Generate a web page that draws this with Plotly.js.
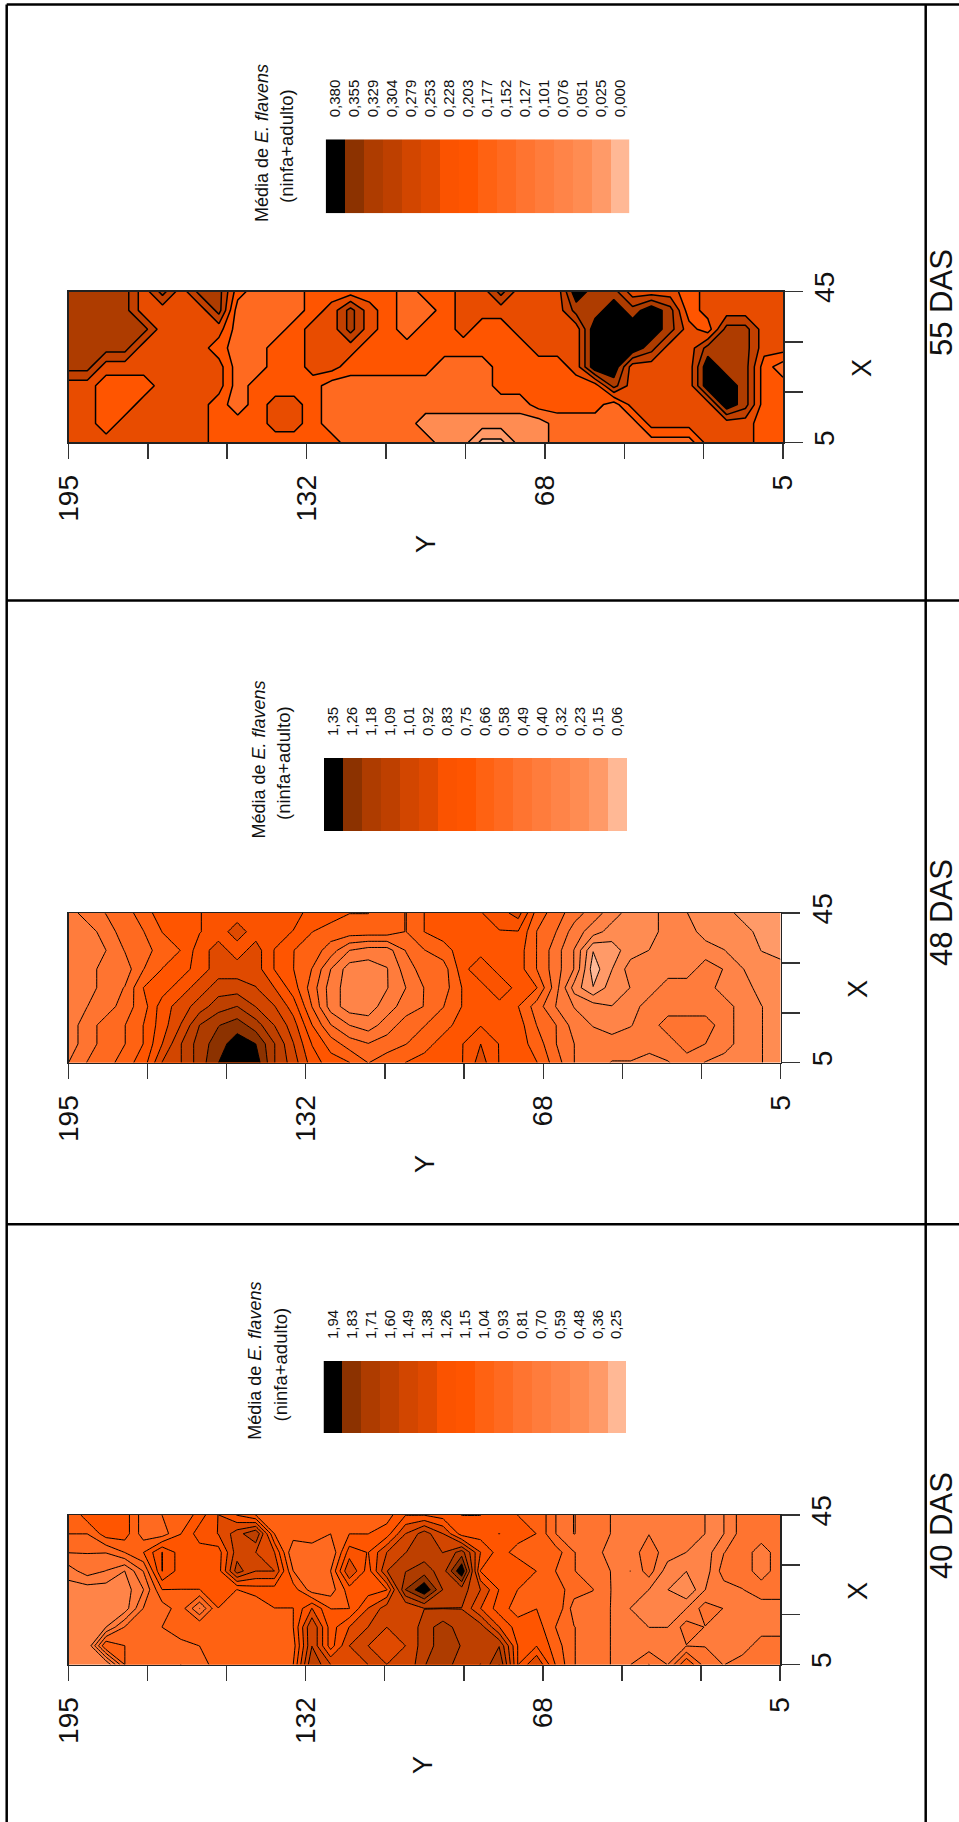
<!DOCTYPE html>
<html><head><meta charset="utf-8">
<script src="https://cdn.plot.ly/plotly-3.0.1.min.js"></script>
<style>html,body{margin:0;padding:0;background:#fff}</style></head>
<body><div id="chart" style="width:959px;height:1822px"></div>
<script>
const gridY = [195,190,185,180,175,170,165,160,155,150,145,140,135,130,125,120,115,110,105,100,95,90,85,80,75,70,65,60,55,50,45,40,35,30,25,20,15,10,5];
const gridX = [45,40,35,30,25,20,15,10,5];

const labels55 = ["0,380","0,355","0,329","0,304","0,279","0,253","0,228","0,203","0,177","0,152","0,127","0,101","0,076","0,051","0,025","0,000"];
const labels48 = ["1,35","1,26","1,18","1,09","1,01","0,92","0,83","0,75","0,66","0,58","0,49","0,40","0,32","0,23","0,15","0,06"];
const labels40 = ["1,94","1,83","1,71","1,60","1,49","1,38","1,26","1,15","1,04","0,93","0,81","0,70","0,59","0,48","0,36","0,25"];

const legendColors = ["#000000","#8C3200","#AE3C00","#BE4000","#D24600","#E04A00","#FB5300","#FF5500","#FF6212","#FF6A20","#FF7430","#FF7C3C","#FF8448","#FF8C52","#FF9A68","#FFB895"];
const bandColors55 = ["#FFB895","#FF9A68","#FF8C52","#FF6A20","#FF5500","#E84C00","#C24000","#AE3C00","#000000"];

const z55 = [
[.35,.35,.35,.35,.25,.35,.25,.35,.35,.20,.15,.15,.15,.20,.20,.20,.20,.20,.15,.20,.20,.25,.25,.35,.25,.25,.25,.42,.35,.35,.25,.25,.25,.20,.25,.25,.25,.25,.25],
[.35,.35,.35,.35,.25,.25,.25,.25,.35,.15,.15,.15,.15,.20,.25,.35,.25,.20,.15,.15,.20,.25,.25,.25,.25,.25,.25,.35,.35,.42,.35,.42,.35,.20,.25,.25,.25,.25,.25],
[.35,.35,.35,.35,.35,.25,.25,.25,.25,.15,.15,.15,.20,.25,.25,.35,.25,.20,.15,.20,.20,.25,.20,.20,.25,.25,.25,.25,.42,.42,.42,.42,.35,.25,.20,.35,.35,.25,.25],
[.35,.35,.35,.35,.25,.25,.25,.25,.20,.15,.15,.20,.20,.25,.25,.25,.20,.20,.20,.20,.20,.20,.20,.20,.20,.25,.25,.25,.42,.42,.42,.35,.25,.25,.35,.35,.35,.25,.25],
[.35,.35,.25,.25,.25,.25,.25,.25,.25,.15,.15,.20,.20,.25,.25,.20,.20,.20,.20,.20,.15,.15,.15,.20,.20,.20,.20,.25,.42,.42,.25,.25,.25,.25,.42,.35,.35,.20,.15],
[.25,.25,.20,.20,.20,.25,.25,.25,.25,.15,.20,.20,.20,.20,.15,.15,.15,.15,.15,.15,.15,.15,.15,.20,.20,.20,.20,.20,.20,.35,.25,.25,.25,.25,.42,.42,.35,.20,.20],
[.25,.25,.20,.20,.25,.25,.25,.25,.20,.15,.20,.25,.25,.20,.15,.15,.15,.15,.15,.15,.15,.15,.15,.15,.15,.20,.20,.20,.20,.15,.25,.25,.25,.25,.25,.42,.35,.20,.20],
[.25,.25,.20,.25,.25,.25,.25,.25,.20,.20,.20,.25,.25,.20,.15,.15,.15,.15,.15,.10,.10,.10,.10,.10,.10,.10,.15,.15,.15,.15,.15,.25,.25,.25,.25,.25,.25,.20,.20],
[.25,.25,.25,.25,.25,.25,.25,.25,.20,.20,.20,.20,.20,.20,.20,.15,.15,.15,.15,.15,.10,.10,.01,.01,.10,.10,.15,.15,.15,.15,.15,.15,.15,.15,.25,.25,.25,.20,.20]
];

const z48 = [
[.45,.53,.58,.62,.71,.79,.79,.83,.88,.88,.88,.88,.88,.79,.79,.75,.75,.71,.66,.75,.79,.79,.83,.88,.96,.71,.62,.53,.45,.36,.28,.28,.36,.32,.28,.28,.19,.19,.19],
[.45,.45,.53,.62,.66,.75,.79,.83,.88,.96,.88,.88,.83,.75,.71,.71,.71,.71,.66,.75,.79,.79,.83,.83,.83,.66,.58,.45,.36,.28,.28,.28,.36,.36,.28,.28,.28,.19,.19],
[.45,.45,.49,.58,.62,.71,.75,.88,.96,.88,.96,.83,.75,.71,.62,.49,.45,.45,.58,.66,.71,.79,.79,.79,.79,.66,.53,.40,.15,.19,.28,.32,.36,.36,.36,.32,.28,.23,.19],
[.45,.45,.53,.53,.66,.75,.79,.88,.96,.96,.96,.83,.75,.66,.49,.36,.36,.40,.53,.62,.62,.79,.92,.79,.79,.66,.53,.40,.10,.23,.36,.36,.36,.36,.45,.40,.32,.28,.28],
[.45,.45,.53,.58,.75,.79,.88,.96,1.05,1.05,1.01,.92,.79,.62,.45,.36,.36,.40,.49,.58,.62,.75,.79,.92,.79,.75,.53,.28,.15,.28,.32,.36,.45,.45,.45,.36,.36,.28,.28],
[.45,.49,.53,.62,.71,.88,.96,1.05,1.14,1.18,1.09,1.01,.88,.66,.45,.36,.36,.45,.53,.58,.66,.75,.79,.79,.75,.62,.49,.40,.36,.32,.36,.45,.45,.45,.45,.45,.36,.32,.28],
[.45,.53,.62,.66,.75,.88,1.01,1.18,1.26,1.31,1.22,1.09,.96,.75,.58,.49,.45,.53,.62,.66,.71,.79,.83,.83,.79,.66,.58,.45,.40,.36,.40,.45,.53,.53,.53,.45,.36,.32,.28],
[.45,.53,.62,.66,.75,.92,1.09,1.22,1.31,1.40,1.35,1.18,1.01,.83,.71,.62,.58,.62,.66,.71,.79,.83,.92,.83,.79,.71,.58,.49,.45,.45,.45,.45,.45,.53,.49,.45,.36,.32,.28],
[.49,.58,.62,.71,.79,1.01,1.09,1.22,1.35,1.40,1.40,1.18,1.05,.88,.79,.75,.66,.71,.75,.79,.79,.83,.96,.83,.79,.75,.62,.49,.45,.40,.40,.36,.40,.45,.40,.36,.32,.32,.28]
];

const z40 = [
[1.04,1.21,1.21,1.21,.98,1.04,1.04,1.21,1.38,1.26,1.15,1.15,1.10,1.15,1.04,1.15,1.15,1.10,1.26,1.26,1.21,1.15,1.15,1.21,1.15,1.15,.93,.81,.87,.81,.81,.81,.81,.81,.70,.70,.87,.87,.87],
[1.04,1.04,1.21,1.21,.98,.98,1.15,1.32,1.38,1.55,1.71,1.15,1.10,1.15,1.04,1.15,1.15,1.21,1.49,1.66,1.49,1.21,1.21,1.15,1.21,1.15,.93,.81,.87,.81,.81,.81,.81,.81,.70,.70,.87,.87,.87],
[.93,.93,.93,1.04,1.15,1.38,1.21,1.21,1.21,1.55,1.49,1.38,.93,.93,.93,1.32,1.26,1.49,1.60,1.66,1.60,1.77,1.38,1.21,1.10,1.04,1.10,.93,.87,.76,.76,.87,.76,.70,.64,.81,.87,.76,.87],
[.76,.87,.81,.70,.93,1.38,1.21,1.21,1.21,1.66,1.49,1.49,1.04,.93,1.04,1.49,1.21,1.60,1.71,1.77,1.66,2.05,1.26,1.21,1.26,1.15,1.04,.93,.87,.81,.70,.87,.64,.59,.64,.87,.87,.76,.87],
[.64,.64,.64,.64,.81,1.15,1.15,1.15,1.21,1.15,1.21,1.21,1.21,.98,.98,1.21,1.21,1.26,1.83,2.05,1.71,1.66,1.49,1.26,1.15,1.15,1.10,.98,.93,.81,.76,.70,.59,.48,.70,.76,.81,.87,.87],
[.59,.59,.59,.64,.93,.98,1.10,.81,1.15,1.15,1.04,1.15,1.15,1.38,1.15,1.15,1.38,1.55,1.49,1.60,1.60,1.60,1.38,1.21,1.10,1.15,1.15,.87,.87,.81,.70,.70,.59,.70,.87,.81,.76,.76,.76],
[.59,.59,.70,.93,.93,1.04,1.15,1.15,1.15,1.10,1.04,1.10,1.15,1.60,1.21,1.38,1.49,1.49,1.49,1.66,1.77,1.66,1.66,1.38,1.21,1.21,1.04,.93,.87,.81,.76,.70,.70,.87,.81,.81,.76,.76,.76],
[.59,.59,1.15,1.04,.93,.93,.98,1.04,1.15,1.15,1.04,1.15,1.10,1.60,1.21,1.49,1.49,1.38,1.49,1.66,1.77,1.71,1.66,1.71,1.26,1.26,1.10,.93,.87,.81,.76,.76,.76,.81,.81,.81,.76,.87,.87],
[.59,.59,.59,1.04,.93,.98,1.04,.93,1.15,1.15,1.15,1.15,1.15,1.71,1.49,1.43,1.49,1.49,1.49,1.71,1.77,1.66,1.60,1.83,1.26,1.49,1.15,.93,.87,.81,.81,.93,.81,1.15,.87,.81,.87,.87,.87]
];

const yTicks = [195,173.9,152.8,131.7,110.6,89.4,68.3,47.2,26.1,5];
const yTickText = ["195","","","132","","","68","","","5"];
const xTicks = [5,18.33,31.67,45];
const xTickText = ["5","","","45"];

const W = 959, H = 1822, TXT = "#111";
const FONT = "'Liberation Sans', Arial, sans-serif";
const domX = (a,b)=>[a/W,b/W], domY = (t,b)=>[1-b/H,1-t/H];

const panels = [
 {name:"55 DAS", z:z55, labels:labels55, start:.0253, size:.0507, end:.381, colors:bandColors55, lw:1.5,
  plot:[68.5,783,291.5,442.3], bar:[325.7,629.3,139.3,213.3], t1:[262,143], t2:[286,146], das:303, xl:[862,368], yl:[426,544]},
 {name:"48 DAS", z:z48, labels:labels48, start:.1465, size:.086, end:1.351, colors:legendColors.slice().reverse(), lw:1,
  plot:[68.5,780.5,913,1062.6], bar:[324,627,758,831], t1:[258,759.5], t2:[283,763], das:913, xl:[858,989], yl:[425,1164]},
 {name:"40 DAS", z:z40, labels:labels40, start:.3627, size:.1127, end:1.941, colors:legendColors.slice().reverse(), lw:1,
  plot:[68.5,780,1515,1664.5], bar:[323.5,626,1361,1433.4], t1:[255,1360.7], t2:[280,1364.5], das:1526, xl:[858,1591], yl:[423,1765]}
];

const data = [], layout = {width:W, height:H, margin:{l:0,r:0,t:0,b:0}, paper_bgcolor:"#fff", plot_bgcolor:"#fff",
  showlegend:false, font:{family:FONT,color:TXT}, annotations:[], shapes:[]};

const note = (text,px,py,size)=>layout.annotations.push({text, xref:"paper", yref:"paper", x:px/W, y:1-py/H,
  xanchor:"center", yanchor:"middle", textangle:-90, showarrow:false, font:{size, family:FONT, color:TXT}});
const rule = (x0,y0,x1,y1)=>layout.shapes.push({type:"line", xref:"paper", yref:"paper", x0:x0/W, x1:x1/W, y0:1-y0/H, y1:1-y1/H,
  line:{color:"#000", width:2.5}, layer:"above"});

panels.forEach((p,i)=>{
  const a = 2*i+1, b = 2*i+2;
  const n = p.colors.length-1;
  data.push({type:"contour", x:gridY, y:gridX, z:p.z, xaxis:"x"+a, yaxis:"y"+a, showscale:false, hoverinfo:"skip",
    autocontour:false, contours:{coloring:"fill", start:p.start, end:p.end, size:p.size},
    line:{color:"#000", width:p.lw, smoothing:0},
    colorscale:p.colors.map((c,k)=>[k/n,c])});
  layout["xaxis"+a] = {domain:domX(p.plot[0],p.plot[1]), anchor:"y"+a, range:[195,5], tickmode:"array", tickvals:yTicks, ticktext:yTickText,
    ticks:"outside", ticklen:15, tickcolor:"#333", tickwidth:1.5, tickangle:-90, ticklabelstandoff:5, tickfont:{size:28,color:TXT,family:FONT},
    showgrid:false, zeroline:false, showline:true, linecolor:"#222", linewidth:1.5, mirror:true};
  layout["yaxis"+a] = {domain:domY(p.plot[2],p.plot[3]), anchor:"x"+a, side:"right", range:[5,45], tickmode:"array", tickvals:xTicks, ticktext:xTickText,
    ticks:"outside", ticklen:18, tickcolor:"#333", tickwidth:1.5, tickangle:-90, ticklabelstandoff:-2, tickfont:{size:28,color:TXT,family:FONT},
    showgrid:false, zeroline:false, showline:true, linecolor:"#222", linewidth:1.5, mirror:true};

  const vals = p.labels.map(s=>parseFloat(s.replace(",",".")));
  const lo = vals[vals.length-1], hi = vals[0];
  const order = legendColors.map((c,k)=>[(vals[k]-lo)/(hi-lo),c]).reverse();
  data.push({type:"heatmap", x:p.labels, y:["m"], z:[vals], xaxis:"x"+b, yaxis:"y"+b, showscale:false, hoverinfo:"skip",
    zmin:lo, zmax:hi, colorscale:order});
  layout["xaxis"+b] = {domain:domX(p.bar[0],p.bar[1]), anchor:"y"+b, side:"top", type:"category", tickmode:"array", tickvals:p.labels, ticktext:p.labels,
    ticks:"", tickangle:-90, ticklabelstandoff:21, tickfont:{size:15,color:TXT,family:FONT}, showgrid:false, zeroline:false, showline:false};
  layout["yaxis"+b] = {domain:domY(p.bar[2],p.bar[3]), anchor:"x"+b, visible:false};

  note("Média de <i>E. flavens</i>", p.t1[0], p.t1[1], 18);
  note("(ninfa+adulto)", p.t2[0], p.t2[1], 18.5);
  note(p.name, 941, p.das, 31);
  note("X", p.xl[0], p.xl[1], 27);
  note("Y", p.yl[0], p.yl[1], 27);
});

rule(6.7,4.6,959,4.6);
rule(6.7,600.5,959,600.5);
rule(6.7,1224.3,959,1224.3);
rule(6.7,4.6,6.7,1822);
rule(925.7,4.6,925.7,1822);

Plotly.newPlot("chart", data, layout, {displayModeBar:false, staticPlot:true});
</script></body></html>
